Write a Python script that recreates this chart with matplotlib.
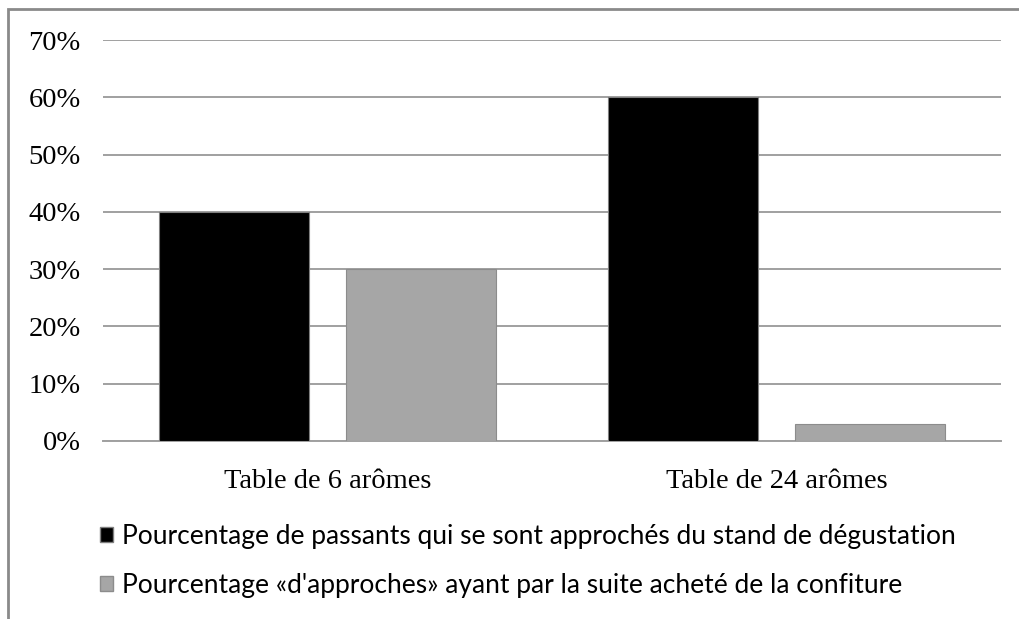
import matplotlib.pyplot as plt
from matplotlib.patches import Rectangle, Patch
import numpy as np

# data
categories = ["Table de 6 arômes", "Table de 24 arômes"]
approached = [40, 60]   # % de passants qui se sont approchés
bought = [30, 3]        # % d'approches ayant acheté
series_labels = [
    "Pourcentage de passants qui se sont approchés du stand de dégustation",
    "Pourcentage «d'approches» ayant par la suite acheté de la confiture",
]
yticks = [0, 10, 20, 30, 40, 50, 60, 70]

W, H = 1019, 619
fig = plt.figure(figsize=(W / 100, H / 100), dpi=100)

# outer frame (only left and top visible)
fig.patches.append(Rectangle((8 / W, -0.1), 1.2, (H - 9) / H + 0.1,
                             transform=fig.transFigure, fill=False,
                             edgecolor="#8a8a8a", linewidth=2))

ax = fig.add_axes([103 / W, 178 / H, 898 / W, 401 / H])

x = np.arange(len(categories))
width = 0.334
off = 0.209
ax.bar(x - off, approached, width, color="black", edgecolor="#7f7f7f",
       linewidth=0.8, zorder=3)
ax.bar(x + off, bought, width, color="#a6a6a6", edgecolor="#8c8c8c",
       linewidth=0.8, zorder=3)

ax.set_xlim(-0.5, 1.5)
ax.set_ylim(0, 70)
ax.set_yticks(yticks)
ax.set_yticklabels([f"{v}%" for v in yticks], family="Liberation Serif",
                   fontsize=20.5)
ax.set_xticks(x)
ax.set_xticklabels(categories, family="Liberation Serif", fontsize=20.5)
ax.tick_params(length=0, axis="y", pad=16)
ax.tick_params(length=0, axis="x", pad=20)

ax.grid(axis="y", color="#a0a0a0", linewidth=1.4, zorder=0)
for s in ["top", "right", "left"]:
    ax.spines[s].set_visible(False)
ax.spines["bottom"].set_color("#a0a0a0")
ax.spines["bottom"].set_linewidth(1.4)

handles = [Patch(facecolor="black", edgecolor="#7f7f7f"),
           Patch(facecolor="#a6a6a6", edgecolor="#8c8c8c")]
fig.legend(handles, series_labels, loc="upper left",
           bbox_to_anchor=(76 / W, 1 - 500 / H), frameon=False,
           prop={"family": "Lato", "size": 19}, handlelength=0.5,
           handleheight=0.5, handletextpad=0.35, labelspacing=0.93)

fig.savefig("out.png", dpi=100)
